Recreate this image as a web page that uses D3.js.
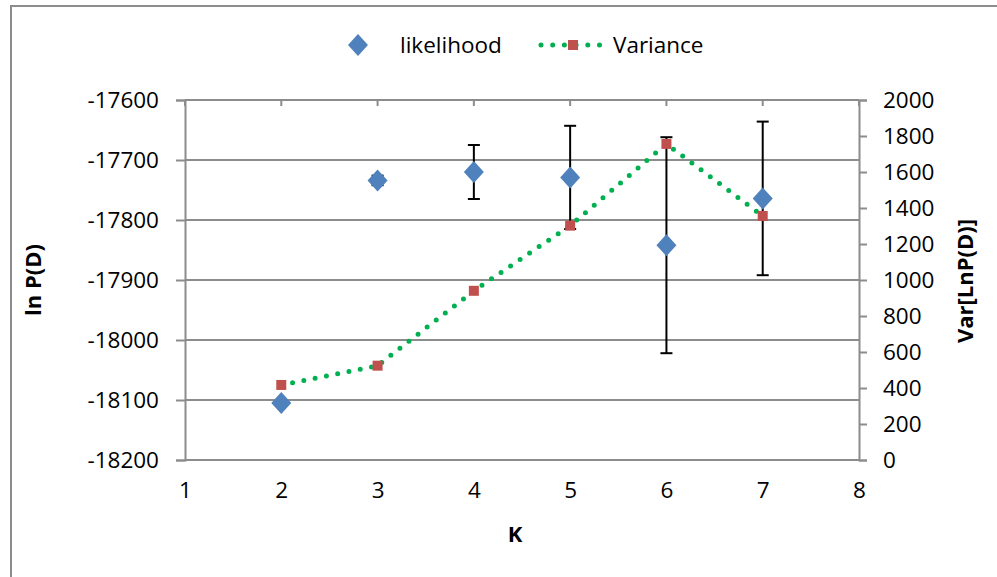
<!DOCTYPE html>
<html>
<head>
<meta charset="utf-8">
<script src="https://cdn.jsdelivr.net/npm/d3@7"></script>
<style>
  body { margin: 0; background: #fff; }
  text { font-family: "Open Sans", Calibri, sans-serif; fill: #000; }
</style>
</head>
<body>
<div id="graph"></div>
<script>
const width = 997,
    height = 577,
    plotLeft = 185,   // plot edges
    plotRight = 859,
    plotTop = 100,
    plotBottom = 460;

// data
const kValues = [2, 3, 4, 5, 6, 7];
const likelihood = [-18105, -17734, -17720, -17729, -17842, -17764];
const likelihoodErr = [0, 8, 45, 86, 180, 128];
const variance = [417, 524, 940, 1302, 1756, 1356];

const xTicks = [1, 2, 3, 4, 5, 6, 7, 8];
const yTicks = [-17600, -17700, -17800, -17900, -18000, -18100, -18200];
const y2Ticks = [0, 200, 400, 600, 800, 1000, 1200, 1400, 1600, 1800, 2000];

const x = d3.scaleLinear().domain([1, 8]).range([plotLeft, plotRight]);
const y = d3.scaleLinear().domain([-18200, -17600]).range([plotBottom, plotTop]);
const y2 = d3.scaleLinear().domain([0, 2000]).range([plotBottom, plotTop]);

const svg = d3.select("#graph")
    .append("svg")
    .attr("width", width)
    .attr("height", height);

// outer chart frame
svg.append("path")
    .attr("d", "M11," + height + "V6H" + width)
    .attr("fill", "none")
    .attr("stroke", "#8c8c8c")
    .attr("stroke-width", 2);

// horizontal gridlines
svg.append("g")
    .selectAll("line")
    .data(yTicks)
    .enter()
    .append("line")
    .attr("x1", plotLeft)
    .attr("x2", plotRight)
    .attr("y1", d => y(d))
    .attr("y2", d => y(d))
    .attr("stroke", "#8c8c8c")
    .attr("stroke-width", 2);

// left axis
const yAxis = d3.axisLeft(y).tickValues(yTicks).tickSize(9).tickPadding(17)
    .tickFormat(d3.format("d"));
const gy = svg.append("g")
    .attr("transform", "translate(" + plotLeft + ",0)")
    .call(yAxis);

// right axis
const y2Axis = d3.axisRight(y2).tickValues(y2Ticks).tickSize(8).tickPadding(16)
    .tickFormat(d3.format("d"));
const gy2 = svg.append("g")
    .attr("transform", "translate(" + plotRight + ",0)")
    .call(y2Axis);

// x axis, labels at bottom, tick marks along the top edge
const xAxis = d3.axisBottom(x).tickValues(xTicks).tickSize(0).tickPadding(22)
    .tickFormat(d3.format("d"));
const gx = svg.append("g")
    .attr("transform", "translate(0," + plotBottom + ")")
    .call(xAxis);
svg.append("g")
    .selectAll("line")
    .data(xTicks)
    .enter()
    .append("line")
    .attr("x1", d => x(d))
    .attr("x2", d => x(d))
    .attr("y1", plotTop)
    .attr("y2", plotTop + 6)
    .attr("stroke", "#8c8c8c")
    .attr("stroke-width", 2);

[gy, gy2, gx].forEach(g => {
  g.select(".domain").attr("stroke", "#8c8c8c").attr("stroke-width", 2);
  g.selectAll(".tick line").attr("stroke", "#8c8c8c").attr("stroke-width", 2);
  g.selectAll(".tick text").attr("font-size", 22.5).attr("fill", "#000")
    .attr("font-family", "'Open Sans', sans-serif");
});
gx.select(".domain").remove();
// d3 uses a unicode minus; the original shows a plain hyphen
gy.selectAll(".tick text").text(d => String(d));

// axis titles
svg.append("text")
    .attr("x", 515).attr("y", 542)
    .attr("text-anchor", "middle")
    .attr("font-size", 22).attr("font-weight", "bold")
    .text("K");
svg.append("text")
    .attr("transform", "translate(41,280) rotate(-90)")
    .attr("text-anchor", "middle")
    .attr("font-size", 22).attr("font-weight", "bold")
    .text("ln P(D)");
svg.append("text")
    .attr("transform", "translate(973,281) rotate(-90)")
    .attr("text-anchor", "middle")
    .attr("font-size", 22).attr("font-weight", "bold")
    .text("Var[LnP(D)]");

// likelihood error bars
const lik = kValues.map((k, i) => ({ k: k, v: likelihood[i], e: likelihoodErr[i] }));
const eb = svg.append("g").attr("stroke", "#000").attr("stroke-width", 2);
lik.filter(d => d.e > 0).forEach(d => {
  eb.append("line")
    .attr("x1", x(d.k)).attr("x2", x(d.k))
    .attr("y1", y(d.v - d.e)).attr("y2", y(d.v + d.e));
  [d.v - d.e, d.v + d.e].forEach(v => {
    eb.append("line")
      .attr("x1", x(d.k) - 6).attr("x2", x(d.k) + 6)
      .attr("y1", y(v)).attr("y2", y(v));
  });
});

// likelihood diamonds
const diamond = "M0,-11L10,0L0,11L-10,0Z";
svg.append("g")
    .selectAll("path")
    .data(lik)
    .enter()
    .append("path")
    .attr("d", diamond)
    .attr("transform", d => "translate(" + x(d.k) + "," + y(d.v) + ")")
    .attr("fill", "#4f81bd");

// variance dotted line + squares
const vdata = kValues.map((k, i) => ({ k: k, v: variance[i] }));
svg.append("path")
    .datum(vdata)
    .attr("d", d3.line().x(d => x(d.k)).y(d => y2(d.v)))
    .attr("fill", "none")
    .attr("stroke", "#00b050")
    .attr("stroke-width", 5)
    .attr("stroke-linecap", "round")
    .attr("stroke-dasharray", "0 11.5");
svg.append("g")
    .selectAll("rect")
    .data(vdata)
    .enter()
    .append("rect")
    .attr("x", d => x(d.k) - 5)
    .attr("y", d => y2(d.v) - 5)
    .attr("width", 10)
    .attr("height", 10)
    .attr("fill", "#c0504d");

// legend
const lg = svg.append("g");
lg.append("path").attr("d", diamond).attr("transform", "translate(358,45)").attr("fill", "#4f81bd");
lg.append("text").attr("x", 400).attr("y", 53).attr("font-size", 22.5).text("likelihood");
lg.append("line")
    .attr("x1", 541).attr("x2", 600).attr("y1", 45).attr("y2", 45)
    .attr("stroke", "#00b050").attr("stroke-width", 5)
    .attr("stroke-linecap", "round").attr("stroke-dasharray", "0 11.7");
lg.append("rect").attr("x", 568).attr("y", 40).attr("width", 10).attr("height", 10).attr("fill", "#c0504d");
lg.append("text").attr("x", 613).attr("y", 53).attr("font-size", 22.5).text("Variance");
</script>
</body>
</html>
